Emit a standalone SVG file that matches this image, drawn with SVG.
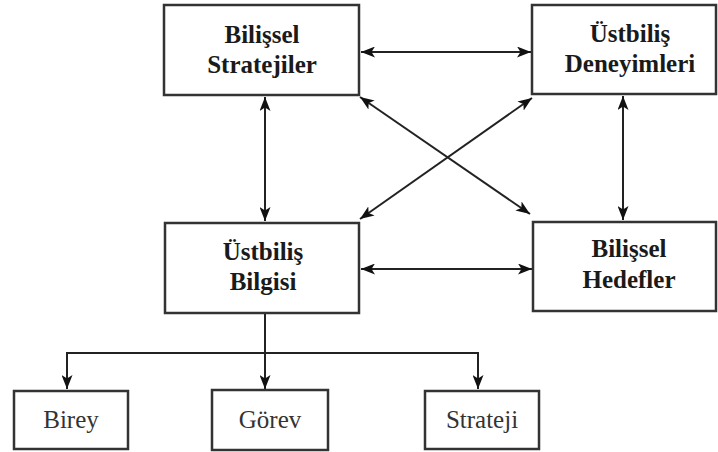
<svg xmlns="http://www.w3.org/2000/svg" width="718" height="452" viewBox="0 0 718 452">
<style>
.box{fill:#fff;stroke:#333;stroke-width:2.5}
.t{font-family:"Liberation Serif","Times New Roman",serif;font-size:25px;font-weight:bold;fill:#1a1a1a;text-anchor:middle}
.r{font-family:"Liberation Serif","Times New Roman",serif;font-size:25px;fill:#333;text-anchor:middle}
.c{fill:none;stroke:#222;stroke-width:2}
</style>
<defs>
<marker id="a" viewBox="0 0 14 11" refX="14" refY="5.5" markerWidth="14" markerHeight="11" markerUnits="userSpaceOnUse" orient="auto-start-reverse">
<path d="M0,0 L14,5.5 L0,11 L3.5,5.5 Z" fill="#111"/>
</marker>
</defs>
<rect width="718" height="452" fill="#fff"/>
<g id="connectors">
<line class="c" x1="361" y1="52" x2="531" y2="52" marker-start="url(#a)" marker-end="url(#a)"/>
<line class="c" x1="361" y1="269" x2="532" y2="269" marker-start="url(#a)" marker-end="url(#a)"/>
<line class="c" x1="265" y1="97" x2="265" y2="221" marker-start="url(#a)" marker-end="url(#a)"/>
<line class="c" x1="623" y1="96" x2="623" y2="220" marker-start="url(#a)" marker-end="url(#a)"/>
<line class="c" x1="360" y1="97" x2="530" y2="214" marker-start="url(#a)" marker-end="url(#a)"/>
<line class="c" x1="532" y1="98" x2="360" y2="219" marker-start="url(#a)" marker-end="url(#a)"/>
<line class="c" x1="265" y1="314" x2="265" y2="389" marker-end="url(#a)"/>
<path class="c" d="M67,389 L67,353 L478,353 L478,389" marker-start="url(#a)" marker-end="url(#a)"/>
</g>
<g id="bilissel-stratejiler">
<rect class="box" x="164" y="5" width="195" height="90"/>
<text class="t" x="262" y="43">Bilişsel</text>
<text class="t" x="262" y="73">Stratejiler</text>
</g>
<g id="ustbilis-deneyimleri">
<rect class="box" x="532" y="5" width="184" height="89"/>
<text class="t" x="630" y="42">Üstbiliş</text>
<text class="t" x="630" y="72">Deneyimleri</text>
</g>
<g id="ustbilis-bilgisi">
<rect class="box" x="165" y="223" width="194" height="90"/>
<text class="t" x="263" y="260">Üstbiliş</text>
<text class="t" x="263" y="290">Bilgisi</text>
</g>
<g id="bilissel-hedefler">
<rect class="box" x="533" y="222" width="183" height="89"/>
<text class="t" x="629" y="257">Bilişsel</text>
<text class="t" x="629" y="288">Hedefler</text>
</g>
<g id="birey">
<rect class="box" x="14" y="391" width="114" height="58"/>
<text class="r" x="71" y="428">Birey</text>
</g>
<g id="gorev">
<rect class="box" x="212" y="390" width="116" height="60"/>
<text class="r" x="270" y="428">Görev</text>
</g>
<g id="strateji">
<rect class="box" x="425" y="391" width="114" height="58"/>
<text class="r" x="482" y="428">Strateji</text>
</g>
</svg>
